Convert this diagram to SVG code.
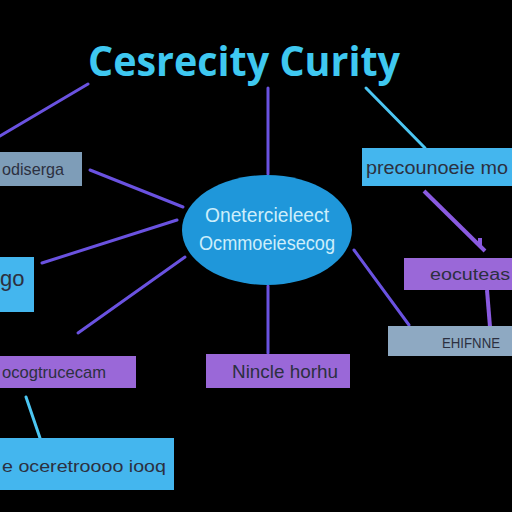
<svg xmlns="http://www.w3.org/2000/svg" width="512" height="512" viewBox="0 0 512 512">
<style>
.lp{stroke:#6a52e0;stroke-width:3;fill:none;stroke-linecap:round}
.lc{stroke:#4cc6f2;stroke-width:3;fill:none;stroke-linecap:round}
.t{font-family:"Liberation Sans",Arial,sans-serif;fill:#2c3040}
.gray{fill:#7e9db8}
.cyan{fill:#44b6ee}
.purp{fill:#9a68d8}
</style>
<rect width="512" height="512" fill="#000"/>
<text x="244" y="76" text-anchor="middle" font-family="Open Sans,Liberation Sans,sans-serif" font-weight="bold" font-size="41" fill="#3fc8f0" textLength="312" lengthAdjust="spacingAndGlyphs">Cesrecity Curity</text>
<g id="connectors">
<line class="lp" x1="88" y1="84" x2="0" y2="136"/>
<line class="lp" x1="268" y1="88" x2="268" y2="174"/>
<line class="lc" x1="366" y1="88" x2="425" y2="148"/>
<line class="lp" x1="90" y1="170" x2="183" y2="207"/>
<line class="lp" x1="42" y1="263" x2="177" y2="220"/>
<line class="lp" x1="78" y1="333" x2="185" y2="257"/>
<line class="lp" x1="268" y1="286" x2="268" y2="353"/>
<line x1="424" y1="191" x2="485" y2="251" stroke="#8a5ae0" stroke-width="4"/>
<line x1="480" y1="238" x2="480" y2="246" stroke="#8a5ae0" stroke-width="4"/>
<line x1="487" y1="290" x2="490" y2="327" stroke="#8a5ae0" stroke-width="4"/>
<line class="lp" x1="354" y1="250" x2="409" y2="325"/>
<line class="lc" x1="26" y1="397" x2="40" y2="438"/>
</g>
<g id="center">
<ellipse cx="267" cy="230" rx="85" ry="55" fill="#1f97da"/>
<text x="267" y="222" text-anchor="middle" font-family="Liberation Sans,sans-serif" font-size="21" fill="#cdeefb" textLength="124" lengthAdjust="spacingAndGlyphs">Onetercieleect</text>
<text x="267" y="250" text-anchor="middle" font-family="Liberation Sans,sans-serif" font-size="21" fill="#cdeefb" textLength="136" lengthAdjust="spacingAndGlyphs">Ocmmoeiesecog</text>
</g>
<g id="n-left-top">
<rect class="gray" x="0" y="152" width="82" height="34"/>
<text class="t" x="2" y="175" font-size="17" textLength="62" lengthAdjust="spacingAndGlyphs">odiserga</text>
</g>
<g id="n-left-mid">
<rect class="cyan" x="0" y="257" width="34" height="55"/>
<text class="t" x="0" y="286" font-size="22">go</text>
</g>
<g id="n-bottom-left-purple">
<rect class="purp" x="0" y="356" width="136" height="32"/>
<text class="t" x="2" y="378" font-size="17" textLength="104" lengthAdjust="spacingAndGlyphs">ocogtrucecam</text>
</g>
<g id="n-bottom-left-cyan">
<rect class="cyan" x="0" y="438" width="174" height="52"/>
<text class="t" x="2" y="472" font-size="17" textLength="164" lengthAdjust="spacingAndGlyphs">e oceretroooo iooq</text>
</g>
<g id="n-bottom-mid">
<rect class="purp" x="206" y="354" width="144" height="34"/>
<text class="t" x="232" y="378" font-size="19" textLength="106" lengthAdjust="spacingAndGlyphs">Nincle horhu</text>
</g>
<g id="n-right-top">
<rect class="cyan" x="362" y="148" width="150" height="38"/>
<text class="t" x="366" y="174" font-size="18" textLength="142" lengthAdjust="spacingAndGlyphs">precounoeie mo</text>
</g>
<g id="n-right-mid">
<rect class="purp" x="404" y="258" width="108" height="32"/>
<text class="t" x="430" y="280" font-size="16" textLength="80" lengthAdjust="spacingAndGlyphs">eocuteas</text>
</g>
<g id="n-right-bottom">
<rect x="388" y="326" width="124" height="30" fill="#8ea9c2"/>
<text class="t" x="442" y="348" font-size="14" textLength="58" lengthAdjust="spacingAndGlyphs">EHIFNNE</text>
</g>
</svg>
